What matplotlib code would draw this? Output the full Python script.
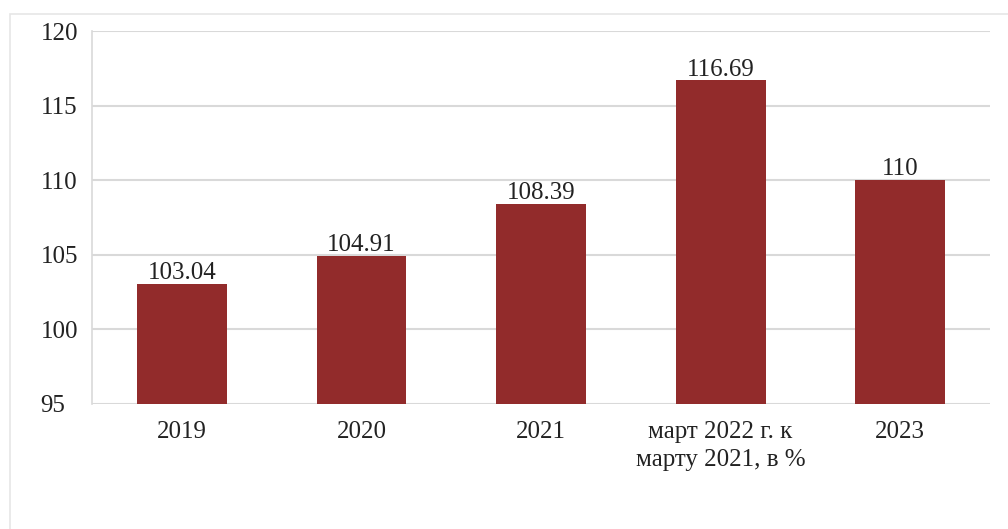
import matplotlib.pyplot as plt
from matplotlib.patches import Rectangle

# data
categories = ["2019", "2020", "2021", "март 2022 г. к\nмарту 2021, в %", "2023"]
values = [103.04, 104.91, 108.39, 116.69, 110]
labels = ["103.04", "104.91", "108.39", "116.69", "110"]
yticks = [95, 100, 105, 110, 115, 120]

plt.rcParams["font.family"] = ["Liberation Serif", "DejaVu Serif"]

fig = plt.figure(figsize=(10.08, 5.29), dpi=100)
ax = fig.add_axes([92 / 1008, 1 - 404 / 529, (990 - 92) / 1008, (404 - 31) / 529])

# light frame around the chart area
fig.patches.append(Rectangle((10 / 1008, -0.1), 1.2, 1.1 - 14 / 529,
                             transform=fig.transFigure, fill=False,
                             edgecolor="#e6e6e6", linewidth=1.2))

x = range(len(categories))
bars = ax.bar(x, values, width=0.5, color="#922b2b", zorder=3, bottom=0)
ax.set_ylim(95, 120)
ax.set_xlim(-0.5, len(categories) - 0.5)
ax.set_yticks(yticks)
ax.set_xticks(list(x))
ax.set_xticklabels(categories, fontsize=18, color="#222222", linespacing=1.35)
ax.tick_params(axis="y", labelsize=18, colors="#222222", length=0, pad=37)
ax.tick_params(axis="x", length=0, pad=12)
for lbl in ax.get_yticklabels():
    lbl.set_horizontalalignment("left")

ax.yaxis.grid(True, color="#d9d9d9", linewidth=1.5, zorder=0)
for s in ["top", "right", "bottom"]:
    ax.spines[s].set_visible(False)
ax.spines["left"].set_color("#d9d9d9")
ax.spines["left"].set_linewidth(1.2)

for b, t in zip(bars, labels):
    ax.annotate(t, (b.get_x() + b.get_width() / 2, b.get_height()),
                xytext=(0, 3.5), textcoords="offset points",
                ha="center", va="baseline", fontsize=18, color="#222222")

fig.savefig("out.png", dpi=100)
